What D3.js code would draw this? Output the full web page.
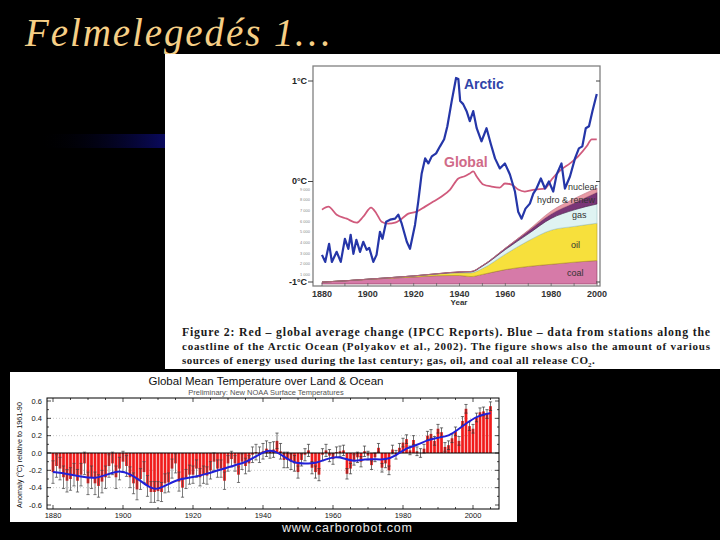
<!DOCTYPE html>
<html>
<head>
<meta charset="utf-8">
<script src="https://cdn.jsdelivr.net/npm/d3@7"></script>
<style>
  body { margin: 0; background: #000; }
  svg { display: block; }
</style>
</head>
<body>
<svg id="canvas" width="720" height="540"></svg>
<script>
// --- top figure: arctic vs global ---
var arcticYears = [1880, 1881.4, 1883.1, 1884.3, 1886.4, 1888.2, 1890, 1891.5, 1892.5, 1893.7, 1895, 1896.6, 1898, 1899.5, 1900.6, 1902.4, 1903.8, 1905.3, 1906.4, 1908, 1909.7, 1911.9, 1913.3, 1914.8, 1917, 1918.4, 1920.6, 1922, 1923.5, 1925, 1926.4, 1927.9, 1929.8, 1931.5, 1933.3, 1934.7, 1936.6, 1938.5, 1939.5, 1940.3, 1941.6, 1943.1, 1944.5, 1946, 1947.5, 1949.6, 1951.8, 1953.7, 1955.5, 1957.6, 1959.8, 1962, 1964.2, 1965.6, 1967.1, 1968.8, 1970.7, 1972.2, 1973.6, 1975.5, 1977.3, 1979, 1980.9, 1982.4, 1984.5, 1986, 1988.2, 1990.4, 1992.1, 1993.6, 1995.1, 1996.5, 1998, 1999.9]
var arcticTemp = [-0.73, -0.80, -0.62, -0.80, -0.70, -0.80, -0.57, -0.67, -0.53, -0.72, -0.58, -0.70, -0.60, -0.68, -0.66, -0.80, -0.73, -0.50, -0.57, -0.40, -0.38, -0.37, -0.33, -0.42, -0.60, -0.67, -0.43, -0.20, 0.08, 0.23, 0.18, 0.25, 0.28, 0.35, 0.42, 0.55, 0.80, 1.03, 1.02, 0.80, 0.77, 0.70, 0.60, 0.70, 0.53, 0.40, 0.53, 0.37, 0.23, 0.13, 0.18, 0.07, -0.10, -0.30, -0.37, -0.27, -0.22, -0.12, -0.07, 0.03, -0.07, 0.00, -0.10, 0.07, 0.18, -0.07, 0.05, 0.23, 0.33, 0.35, 0.53, 0.55, 0.70, 0.87]
var globalYears = [1880, 1882.8, 1886.4, 1890.8, 1895.1, 1898, 1901.4, 1903.8, 1906, 1908.9, 1911.9, 1914.8, 1917.7, 1921.3, 1925, 1928.6, 1932.2, 1935.9, 1939.5, 1942, 1944.5, 1946, 1947.5, 1950.4, 1954, 1957.6, 1959.8, 1962.7, 1965.6, 1968.5, 1972.9, 1977.3, 1980.2, 1984.5, 1988.2, 1991.8, 1995.5, 1997.7, 1999.9]
var globalTemp = [-0.28, -0.25, -0.33, -0.37, -0.41, -0.35, -0.26, -0.32, -0.40, -0.42, -0.41, -0.37, -0.32, -0.30, -0.25, -0.20, -0.15, -0.08, 0.03, 0.05, 0.08, 0.10, 0.05, -0.03, -0.05, -0.06, -0.02, -0.03, -0.08, -0.10, -0.08, -0.07, 0.02, 0.12, 0.18, 0.25, 0.35, 0.42, 0.42]

// energy sources, layer amounts (stacked)
var energyYears = [1880, 1890, 1900, 1910, 1920, 1930, 1940, 1945, 1950, 1960, 1970, 1980, 1990, 2000]
var coal = [180, 300, 430, 550, 650, 780, 800, 700, 900, 1350, 1650, 1850, 2050, 2200]
var oil = [0, 0, 20, 50, 100, 150, 250, 350, 550, 1450, 2400, 3200, 3350, 3500]
var gas = [0, 0, 0, 0, 10, 20, 60, 80, 220, 430, 650, 1100, 1550, 1800]
var hydro = [0, 0, 0, 0, 0, 10, 30, 40, 60, 120, 280, 420, 650, 1100]
var nuclear = [0, 0, 0, 0, 0, 0, 0, 0, 0, 10, 60, 260, 400, 400]
var energyTicks = [1000, 2000, 3000, 4000, 5000, 6000, 7000, 8000, 9000]
var tempTicks = [1, 0, -1]
var tempTickLabels = ['1°C', '0°C', '-1°C']
var yearTicks = [1880, 1900, 1920, 1940, 1960, 1980, 2000]

// --- bottom figure: NOAA global mean anomaly 1880-2005 ---
var noaaYears = d3.range(1880, 2006)
var anomaly = [
  -0.22, -0.15, -0.18, -0.28, -0.32, -0.30, -0.25, -0.32, -0.25, -0.12,
  -0.35, -0.28, -0.35, -0.38, -0.33, -0.28, -0.15, -0.12, -0.28, -0.18,
  -0.10, -0.15, -0.28, -0.35, -0.42, -0.30, -0.22, -0.38, -0.45, -0.45,
  -0.44, -0.45, -0.35, -0.34, -0.18, -0.12, -0.33, -0.40, -0.30, -0.25,
  -0.25, -0.18, -0.28, -0.25, -0.26, -0.20, -0.10, -0.18, -0.18, -0.32,
  -0.12, -0.07, -0.12, -0.25, -0.10, -0.15, -0.12, -0.02, 0.01, -0.02,
  0.02, 0.05, 0.03, 0.04, 0.14, 0.02, -0.08, -0.08, -0.10, -0.12,
  -0.22, -0.08, -0.02, 0.03, -0.17, -0.22, -0.25, -0.02, 0.03, -0.03,
  -0.07, 0.01, 0.02, 0.03, -0.24, -0.18, -0.08, -0.05, -0.10, 0.02,
  -0.03, -0.14, -0.05, 0.06, -0.17, -0.12, -0.20, 0.04, -0.02, 0.06,
  0.12, 0.16, 0.03, 0.15, 0.02, 0.00, 0.05, 0.20, 0.22, 0.14,
  0.28, 0.24, 0.07, 0.09, 0.17, 0.25, 0.14, 0.37, 0.51, 0.31,
  0.28, 0.41, 0.47, 0.48, 0.45, 0.54
]
// error bar half width per decade (1880s .. 2000s)
var errDecade = [0.13, 0.13, 0.12, 0.11, 0.10, 0.09, 0.09, 0.07, 0.06, 0.05, 0.05, 0.05, 0.05]
var smoothYears = [1880, 1884, 1888, 1892, 1896, 1899, 1902, 1905, 1908, 1910, 1913, 1916, 1920, 1924, 1928, 1932, 1935, 1938, 1941, 1943, 1946, 1949, 1952, 1955, 1958, 1961, 1963, 1966, 1969, 1972, 1975, 1978, 1981, 1984, 1987, 1990, 1993, 1996, 1999, 2002, 2005]
var smoothTemp = [-0.22, -0.24, -0.27, -0.30, -0.24, -0.20, -0.24, -0.32, -0.41, -0.42, -0.36, -0.30, -0.28, -0.24, -0.19, -0.14, -0.11, -0.04, 0.03, 0.03, -0.04, -0.12, -0.12, -0.12, -0.07, -0.04, -0.06, -0.10, -0.07, -0.07, -0.08, -0.03, 0.06, 0.09, 0.15, 0.18, 0.19, 0.28, 0.37, 0.44, 0.46]
var anomalyTicks = [0.6, 0.4, 0.2, 0.0, -0.2, -0.4, -0.6]
var noaaYearTicks = [1880, 1900, 1920, 1940, 1960, 1980, 2000]

var captionLines = [
  'Figure 2: Red – global average change (IPCC Reports). Blue – data from stations along the',
  'coastline of the Arctic Ocean (Polyakov et al., 2002). The figure shows also the amount of various',
  'sources of energy used during the last century; gas, oil, and coal all release CO'
]

var canvas = d3.select('#canvas')
var sans = 'Liberation Sans, Arial, sans-serif'
var serif = 'Liberation Serif, Times New Roman, serif'

canvas.append('rect').attr('width', 720).attr('height', 540).attr('fill', '#000')

// slide title + blue streak
var defs = canvas.append('defs')
var grad = defs.append('linearGradient').attr('id', 'streak')
grad.append('stop').attr('offset', '0%').attr('stop-color', '#000').attr('stop-opacity', 0)
grad.append('stop').attr('offset', '100%').attr('stop-color', '#0a0a62')
canvas.append('rect').attr('x', 38).attr('y', 134).attr('width', 130).attr('height', 14).attr('fill', 'url(#streak)')

canvas.append('text')
  .attr('x', 25).attr('y', 46)
  .attr('font-family', serif).attr('font-style', 'italic').attr('font-size', 39)
  .attr('fill', '#f6cf86')
  .attr('textLength', 305).attr('lengthAdjust', 'spacing')
  .text('Felmelegedés 1…')

// ---------- top figure ----------
canvas.append('rect').attr('x', 165).attr('y', 54).attr('width', 555).attr('height', 315).attr('fill', '#fff')

var x = d3.scaleLinear().domain([1880, 2000]).range([322, 597])
var yT = d3.scaleLinear().domain([-1, 1]).range([282, 81])
var yE = d3.scaleLinear().domain([0, 9000]).range([284, 188])

var energyRows = energyYears.map(function(yr, i) {
  return { year: yr, coal: coal[i], oil: oil[i], gas: gas[i], hydro: hydro[i], nuclear: nuclear[i] }
})
var keys = ['coal', 'oil', 'gas', 'hydro', 'nuclear']
var fills = { coal: '#d67aa8', oil: '#f7e03c', gas: '#dff3f2', hydro: '#7a3677', nuclear: '#e89aa6' }
var edges = { coal: '#8a3a5a', oil: '#b8a020', gas: '#9fc8c8', hydro: '#4a1a48', nuclear: '#c07080' }
var layers = d3.stack().keys(keys)(energyRows)
var area = d3.area()
  .x(function(d) { return x(d.data.year) })
  .y0(function(d) { return yE(d[0]) })
  .y1(function(d) { return yE(d[1]) })
  .curve(d3.curveMonotoneX)
canvas.selectAll('.energy')
  .data(layers)
  .enter()
  .append('path')
  .attr('class', 'energy')
  .attr('d', area)
  .attr('fill', function(d) { return fills[d.key] })
  .attr('stroke', function(d) { return edges[d.key] })
  .attr('stroke-width', 0.6)

var line = d3.line()
  .x(function(d) { return x(d[0]) })
  .y(function(d) { return yT(d[1]) })
canvas.append('path')
  .datum(d3.zip(globalYears, globalTemp))
  .attr('d', line.curve(d3.curveMonotoneX))
  .attr('fill', 'none').attr('stroke', '#d05a7c').attr('stroke-width', 1.8)
canvas.append('path')
  .datum(d3.zip(arcticYears, arcticTemp))
  .attr('d', line.curve(d3.curveLinear))
  .attr('fill', 'none').attr('stroke', '#2536a8').attr('stroke-width', 2.2)
  .attr('stroke-linejoin', 'round')

// frame and ticks
canvas.append('rect').attr('x', 313).attr('y', 66).attr('width', 287).attr('height', 220)
  .attr('fill', 'none').attr('stroke', '#808080').attr('stroke-width', 1.3)
tempTicks.forEach(function(t, i) {
  canvas.append('line').attr('x1', 308).attr('x2', 313).attr('y1', yT(t)).attr('y2', yT(t))
    .attr('stroke', '#444').attr('stroke-width', 1)
  canvas.append('line').attr('x1', 596).attr('x2', 600).attr('y1', yT(t)).attr('y2', yT(t))
    .attr('stroke', '#444').attr('stroke-width', 1)
  canvas.append('text').attr('x', 307).attr('y', yT(t) + 2.5)
    .attr('text-anchor', 'end').attr('font-family', sans).attr('font-weight', 'bold')
    .attr('font-size', 9).attr('fill', '#222')
    .text(tempTickLabels[i])
})
energyTicks.forEach(function(e) {
  canvas.append('text').attr('x', 310).attr('y', yE(e) + 2.6)
    .attr('text-anchor', 'end').attr('font-family', sans).attr('font-size', 4)
    .attr('fill', '#888')
    .text(d3.format(',')(e).replace(',', ' '))
})
d3.range(1880, 2001, 10).forEach(function(yr) {
  canvas.append('line').attr('x1', x(yr)).attr('x2', x(yr)).attr('y1', 283).attr('y2', 286)
    .attr('stroke', '#666').attr('stroke-width', 0.8)
})
canvas.selectAll('.xlab')
  .data(yearTicks)
  .enter()
  .append('text')
  .attr('x', function(d) { return x(d) })
  .attr('y', 297)
  .attr('text-anchor', 'middle').attr('font-family', sans).attr('font-weight', 'bold')
  .attr('font-size', 9).attr('fill', '#333')
  .text(function(d) { return d })
canvas.append('text').attr('x', 459).attr('y', 305).attr('text-anchor', 'middle')
  .attr('font-family', sans).attr('font-weight', 'bold').attr('font-size', 8).attr('fill', '#333')
  .text('Year')

// in-plot labels
canvas.append('text').attr('x', 464).attr('y', 89).attr('font-family', sans).attr('font-weight', 'bold')
  .attr('font-size', 14).attr('fill', '#3044a8').text('Arctic')
canvas.append('text').attr('x', 444).attr('y', 167).attr('font-family', sans).attr('font-weight', 'bold')
  .attr('font-size', 14).attr('fill', '#d06a88').text('Global')
var layerLabels = [['nuclear', 568, 190], ['hydro & renew', 537, 203], ['gas', 572, 218], ['oil', 571, 248], ['coal', 567, 276]]
layerLabels.forEach(function(l) {
  canvas.append('text').attr('x', l[1]).attr('y', l[2]).attr('font-family', sans)
    .attr('font-size', 9).attr('fill', '#333').text(l[0])
})

// caption
var capY = [336, 350, 364]
captionLines.forEach(function(s, i) {
  canvas.append('text').attr('x', 182).attr('y', capY[i])
    .attr('font-family', serif).attr('font-weight', 'bold')
    .attr('font-size', i === 0 ? 11.8 : 11).attr('fill', '#1a1a1a')
    .attr('textLength', i === 2 ? 406 : 528).attr('lengthAdjust', 'spacing')
    .text(s)
  if (i === 2) {
    canvas.append('text').attr('x', 588).attr('y', capY[i] + 2.5)
      .attr('font-family', serif).attr('font-weight', 'bold').attr('font-size', 7).attr('fill', '#1a1a1a')
      .text('2')
    canvas.append('text').attr('x', 592).attr('y', capY[i])
      .attr('font-family', serif).attr('font-weight', 'bold').attr('font-size', 11).attr('fill', '#1a1a1a')
      .text('.')
  }
})

// ---------- bottom figure ----------
canvas.append('rect').attr('x', 10).attr('y', 372).attr('width', 507).attr('height', 150).attr('fill', '#fff')

var xB = d3.scaleLinear().domain([1880, 2000]).range([53, 473])
var yB = d3.scaleLinear().domain([-0.6, 0.6]).range([505, 401])
var barW = 2.7

canvas.append('text').attr('x', 266).attr('y', 385).attr('text-anchor', 'middle')
  .attr('font-family', sans).attr('font-size', 11.5).attr('fill', '#111')
  .text('Global Mean Temperature over Land & Ocean')
canvas.append('text').attr('x', 266).attr('y', 395).attr('text-anchor', 'middle')
  .attr('font-family', sans).attr('font-size', 7.5).attr('fill', '#555')
  .text('Preliminary: New NOAA Surface Temperatures')

// dotted grid
;[0.4, 0.2, -0.2, -0.4].forEach(function(v) {
  canvas.append('line').attr('x1', 47).attr('x2', 499).attr('y1', yB(v)).attr('y2', yB(v))
    .attr('stroke', '#aaa').attr('stroke-width', 0.6).attr('stroke-dasharray', '1,2')
})

canvas.selectAll('.bar')
  .data(anomaly)
  .enter()
  .append('rect')
  .attr('class', 'bar')
  .attr('x', function(d, i) { return xB(noaaYears[i]) - barW / 2 })
  .attr('y', function(d) { return d > 0 ? yB(d) : yB(0) })
  .attr('width', barW)
  .attr('height', function(d) { return Math.abs(yB(d) - yB(0)) })
  .attr('fill', '#f01c1c')

canvas.selectAll('.err')
  .data(anomaly)
  .enter()
  .each(function(d, i) {
    var e = errDecade[Math.floor((noaaYears[i] - 1880) / 10)]
    var cx = xB(noaaYears[i])
    var col = noaaYears[i] < 1940 ? '#444' : '#333'
    canvas.append('line').attr('x1', cx).attr('x2', cx).attr('y1', yB(d + e)).attr('y2', yB(d - e))
      .attr('stroke', col).attr('stroke-width', 0.7)
    ;[d + e, d - e].forEach(function(v) {
      canvas.append('line').attr('x1', cx - 1.6).attr('x2', cx + 1.6).attr('y1', yB(v)).attr('y2', yB(v))
        .attr('stroke', col).attr('stroke-width', 0.7)
    })
  })

canvas.append('line').attr('x1', 47).attr('x2', 499).attr('y1', yB(0)).attr('y2', yB(0))
  .attr('stroke', '#000').attr('stroke-width', 1.1)

canvas.append('path')
  .datum(d3.zip(smoothYears, smoothTemp))
  .attr('d', d3.line()
    .x(function(d) { return xB(d[0]) })
    .y(function(d) { return yB(d[1]) })
    .curve(d3.curveBasis))
  .attr('fill', 'none').attr('stroke', '#2020d8').attr('stroke-width', 2)

canvas.append('rect').attr('x', 47).attr('y', 398).attr('width', 452).attr('height', 111)
  .attr('fill', 'none').attr('stroke', '#000').attr('stroke-width', 1)

d3.range(-0.6, 0.61, 0.1).forEach(function(v) {
  var len = Math.abs(Math.round(v * 10)) % 2 === 0 ? 4 : 2
  canvas.append('line').attr('x1', 47).attr('x2', 47 + len).attr('y1', yB(v)).attr('y2', yB(v))
    .attr('stroke', '#000').attr('stroke-width', 0.7)
  canvas.append('line').attr('x1', 499 - len).attr('x2', 499).attr('y1', yB(v)).attr('y2', yB(v))
    .attr('stroke', '#000').attr('stroke-width', 0.7)
})
d3.range(1880, 2006, 5).forEach(function(yr) {
  var len = (yr - 1880) % 20 === 0 ? 4 : 2
  canvas.append('line').attr('x1', xB(yr)).attr('x2', xB(yr)).attr('y1', 509 - len).attr('y2', 509)
    .attr('stroke', '#000').attr('stroke-width', 0.7)
  canvas.append('line').attr('x1', xB(yr)).attr('x2', xB(yr)).attr('y1', 398).attr('y2', 398 + len)
    .attr('stroke', '#000').attr('stroke-width', 0.7)
})

canvas.selectAll('.ylabB')
  .data(anomalyTicks)
  .enter()
  .append('text')
  .attr('x', 42)
  .attr('y', function(d) { return yB(d) + 2.7 })
  .attr('text-anchor', 'end').attr('font-family', sans).attr('font-size', 7.5).attr('fill', '#111')
  .text(function(d) { return d3.format('.1f')(d).replace('−', '-') })
canvas.selectAll('.xlabB')
  .data(noaaYearTicks)
  .enter()
  .append('text')
  .attr('x', function(d) { return xB(d) })
  .attr('y', 518)
  .attr('text-anchor', 'middle').attr('font-family', sans).attr('font-size', 7.5).attr('fill', '#111')
  .text(function(d) { return d })
canvas.append('text')
  .attr('transform', 'translate(22,455) rotate(-90)')
  .attr('text-anchor', 'middle').attr('font-family', sans).attr('font-size', 7.3).attr('fill', '#111')
  .text('Anomaly (°C) relative to 1961-90')

canvas.append('text').attr('x', 282).attr('y', 532)
  .attr('font-family', sans).attr('font-size', 12.5).attr('fill', '#e8e8e8')
  .attr('textLength', 130).attr('lengthAdjust', 'spacing')
  .text('www.carborobot.com')
</script>
</body>
</html>
